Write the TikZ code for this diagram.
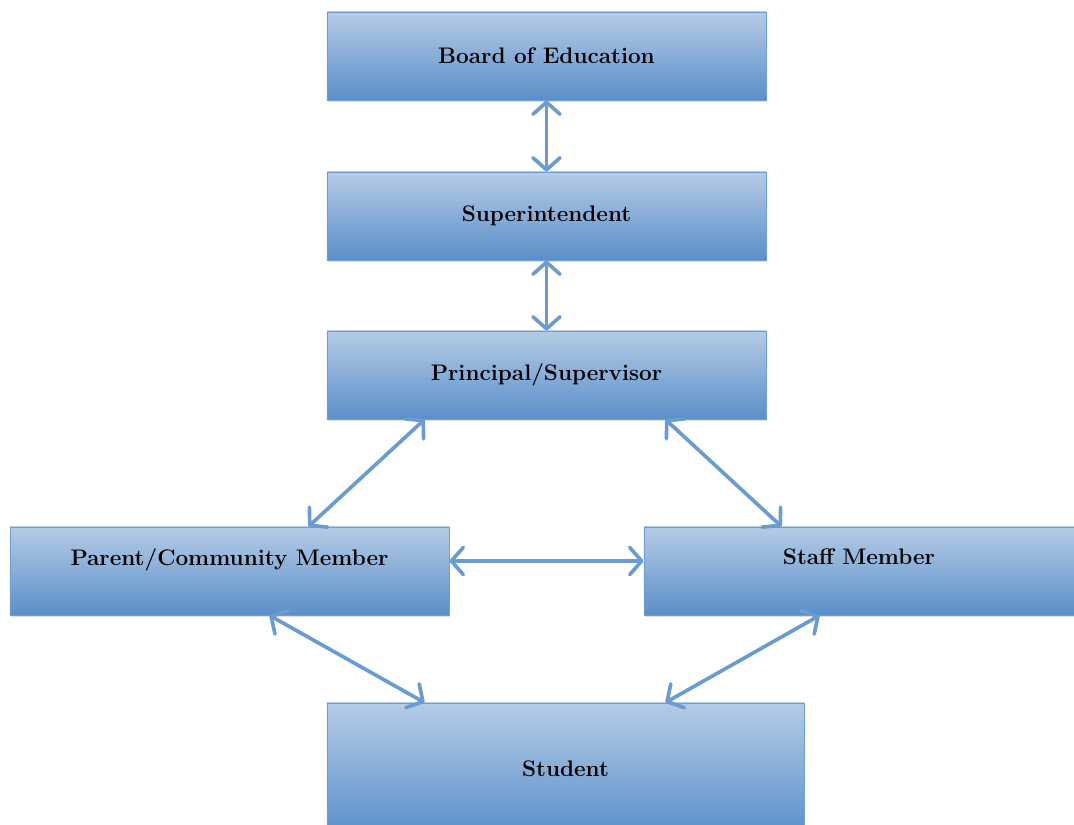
\documentclass[tikz,border=0pt]{standalone}
\usetikzlibrary{arrows.meta,shadows}
\definecolor{boxtop}{HTML}{B4CBE6}
\definecolor{boxbot}{HTML}{5B8FC9}
\definecolor{boxline}{HTML}{6F9ED4}
\definecolor{arrowblue}{HTML}{6A9BD2}

\begin{document}
\begin{tikzpicture}[x=0.025cm,y=-0.025cm]
    \tikzset{every node/.style={draw=boxline,line width=0.6pt,rectangle,top color=boxtop,bottom color=boxbot,
        minimum width=10.975cm,minimum height=2.2cm,inner sep=0pt,
        drop shadow={shadow xshift=0.4pt,shadow yshift=-1.2pt,opacity=0.25},
        font=\fontsize{16}{19}\selectfont\bfseries}}
    \tikzset{edge/.style={line width=2.6pt,draw=arrowblue,>={Straight Barb[round,length=0.3cm,width=0.68cm]}}}
    \tikzset{raised/.style={text depth=0.7cm}}

    \useasboundingbox (0,0) rectangle (1074,824);

    \node (11) at (546.5, 56) {Board of Education};
    \node (21) at (546.5, 216) {Superintendent};
    \node (31) at (546.5, 375) {Principal/Supervisor};

    \node[raised] (41) at (229.5, 571) {Parent/Community Member};
    \node[raised,minimum width=10.75cm] (42) at (859, 571) {Staff Member};

    \node[minimum width=11.925cm,minimum height=3.3cm] (51) at (565.5, 769) {Student};

    \begin{scope}[every path/.style={<->}]
       \draw[edge] (11) -- (21);
       \draw[edge] (21) -- (31);
       \draw[edge] ([xshift=2.45cm]31.south west) -- ([xshift=-3.525cm]41.north east);
       \draw[edge] ([xshift=-2.525cm]31.south east) -- ([xshift=3.45cm]42.north west);

       \draw[edge] ([yshift=0.25cm]41.east) -- ([yshift=0.25cm]42.west);

       \draw[edge] ([xshift=6.5cm]41.south west) -- ([xshift=2.45cm]51.north west);
       \draw[edge] ([xshift=4.4cm]42.south west) -- ([xshift=-3.475cm]51.north east);
    \end{scope}
\end{tikzpicture}
\end{document}
